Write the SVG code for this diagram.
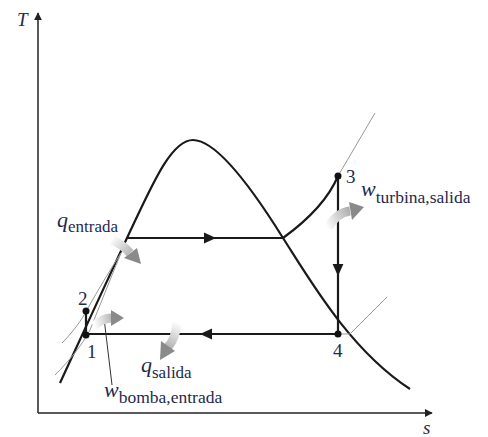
<svg xmlns="http://www.w3.org/2000/svg" width="488" height="437" viewBox="0 0 488 437">
<style>
.ax{stroke:#222;stroke-width:1.5;fill:none}
.k{stroke:#1a1a1a;stroke-width:2.2;fill:none}
.g{stroke:#999;stroke-width:1;fill:none}
.lbl{font-family:"Liberation Serif","Times New Roman",serif;fill:#1f2a4d}
.it{font-style:italic}
.dot{fill:#111}
</style>
<defs>
<marker id="ah" viewBox="0 0 10 10" refX="9" refY="5" markerWidth="8" markerHeight="8" markerUnits="userSpaceOnUse" orient="auto"><path d="M0,0 L10,5 L0,10 z" fill="#222"/></marker>
<marker id="mid" viewBox="0 0 10 10" refX="5" refY="5" markerWidth="12" markerHeight="12" markerUnits="userSpaceOnUse" orient="auto"><path d="M0,0.5 L10,5 L0,9.5 z" fill="#1a1a1a"/></marker>
<linearGradient id="gT" gradientUnits="userSpaceOnUse" x1="326" y1="226" x2="362" y2="208"><stop offset="0" stop-color="#fff"/><stop offset="1" stop-color="#8a8a8a"/></linearGradient>
<linearGradient id="gQi" gradientUnits="userSpaceOnUse" x1="112" y1="238" x2="141" y2="263"><stop offset="0" stop-color="#fff"/><stop offset="1" stop-color="#8a8a8a"/></linearGradient>
<linearGradient id="gP" gradientUnits="userSpaceOnUse" x1="94" y1="324" x2="124" y2="318"><stop offset="0" stop-color="#fff"/><stop offset="1" stop-color="#8a8a8a"/></linearGradient>
<linearGradient id="gQo" gradientUnits="userSpaceOnUse" x1="177" y1="322" x2="161" y2="360"><stop offset="0" stop-color="#fff"/><stop offset="1" stop-color="#8a8a8a"/></linearGradient>
</defs>

<g id="axes">
<path class="ax" d="M38,413 V13" marker-end="url(#ah)"/>
<path class="ax" d="M38,413 H432" marker-end="url(#ah)"/>
<text class="lbl it" x="17" y="26" font-size="19">T</text>
<text class="lbl it" x="423" y="434" font-size="19">s</text>
</g>

<g id="dome">
<path class="k" d="M60,383 C80,340 105,285 127,238 C150,190 170,140 193,140 C215,140 250,185 283,238 C310,280 350,350 410,389"/>
</g>

<g id="isobars">
<path class="g" d="M55,375 C70,360 82,345 90,330 C100,305 110,280 121,253"/>
<path class="g" d="M62,343 C72,333 82,320 88,308 C98,290 110,270 121,253"/>
<path class="g" d="M338,176 L375,113"/>
<path class="g" d="M338,334 H350 L387,297"/>
</g>

<g id="connectors">
<path class="k" d="M127,238 H283"/>
<path class="k" d="M205,238 H210" marker-end="url(#mid)"/>
<path class="k" d="M283,238 C305,222 328,200 338,176"/>
<path class="k" d="M338,176 V334"/>
<path class="k" d="M338,265 V270" marker-end="url(#mid)"/>
<path class="k" d="M338,334 H86"/>
<path class="k" d="M212,334 H206" marker-end="url(#mid)"/>
<path class="k" d="M86,335 V311" stroke-width="2.8"/>
<path d="M104,318 L112,385" stroke="#333" stroke-width="1" fill="none"/>
</g>

<g id="heat-arrows">
<path d="M112,240 Q122,244 130,253" stroke="url(#gQi)" stroke-width="9" fill="none"/>
<path d="M124,258 L137,248 L141,264 z" fill="#8a8a8a"/>
<path d="M94,326 Q102,318 112,318" stroke="url(#gP)" stroke-width="9" fill="none"/>
<path d="M111,310 L124,318 L111,326 z" fill="#8a8a8a"/>
<path d="M177,322 Q176,338 168,347" stroke="url(#gQo)" stroke-width="9" fill="none"/>
<path d="M161,341 L175,351 L160,360 z" fill="#8a8a8a"/>
<path d="M328,228 Q336,213 350,211" stroke="url(#gT)" stroke-width="9" fill="none"/>
<path d="M349,202 L364,207 L352,220 z" fill="#8a8a8a"/>
</g>

<g id="p1"><circle class="dot" cx="86" cy="335" r="3.5"/><text class="lbl" x="87" y="358" font-size="19">1</text></g>
<g id="p2"><circle class="dot" cx="86" cy="311" r="3.5"/><text class="lbl" x="78" y="305" font-size="19">2</text></g>
<g id="p3"><circle class="dot" cx="338" cy="176" r="3.5"/><text class="lbl" x="346" y="183" font-size="19">3</text></g>
<g id="p4"><circle class="dot" cx="338" cy="334" r="3.5"/><text class="lbl" x="333" y="357" font-size="19">4</text></g>

<g id="labels">
<text class="lbl" x="57" y="227"><tspan class="it" font-size="22">q</tspan><tspan font-size="17" dy="5">entrada</tspan></text>
<text class="lbl" x="141" y="372"><tspan class="it" font-size="22">q</tspan><tspan font-size="17" dy="6">salida</tspan></text>
<text class="lbl" x="361" y="196"><tspan class="it" font-size="22">w</tspan><tspan font-size="17.5" dy="7">turbina,salida</tspan></text>
<text class="lbl" x="104" y="397"><tspan class="it" font-size="22">w</tspan><tspan font-size="17.5" dy="6">bomba,entrada</tspan></text>
</g>
</svg>
